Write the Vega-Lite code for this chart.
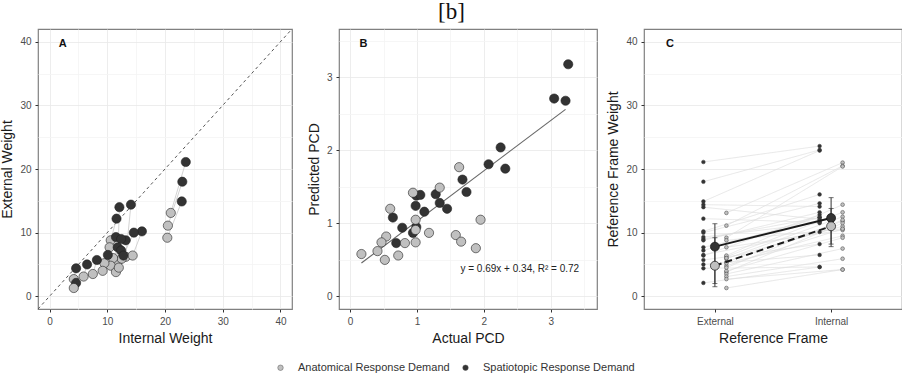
{
  "$schema": "https://vega.github.io/schema/vega-lite/v6.json",
  "padding": {"left": 0, "top": 1, "right": 0, "bottom": 0},
  "title": {"text": "[b]", "font": "Liberation Serif", "fontSize": 23, "fontWeight": "normal", "anchor": "middle", "color": "#111", "offset": 4},
  "datasets": {
    "weights": [
      {"p": 1, "cond": "Spatiotopic Response Demand", "Internal": 23.6, "External": 21.1},
      {"p": 1, "cond": "Anatomical Response Demand", "Internal": 21.0, "External": 13.1},
      {"p": 2, "cond": "Spatiotopic Response Demand", "Internal": 23.0, "External": 18.0},
      {"p": 2, "cond": "Anatomical Response Demand", "Internal": 20.5, "External": 11.1},
      {"p": 3, "cond": "Spatiotopic Response Demand", "Internal": 22.9, "External": 14.9},
      {"p": 3, "cond": "Anatomical Response Demand", "Internal": 20.4, "External": 9.2},
      {"p": 4, "cond": "Spatiotopic Response Demand", "Internal": 14.1, "External": 14.4},
      {"p": 4, "cond": "Anatomical Response Demand", "Internal": 13.2, "External": 6.2},
      {"p": 5, "cond": "Spatiotopic Response Demand", "Internal": 12.1, "External": 14.0},
      {"p": 5, "cond": "Anatomical Response Demand", "Internal": 11.8, "External": 5.4},
      {"p": 6, "cond": "Spatiotopic Response Demand", "Internal": 11.6, "External": 12.2},
      {"p": 6, "cond": "Anatomical Response Demand", "Internal": 10.6, "External": 8.8},
      {"p": 7, "cond": "Spatiotopic Response Demand", "Internal": 16.0, "External": 10.2},
      {"p": 7, "cond": "Anatomical Response Demand", "Internal": 14.4, "External": 6.4},
      {"p": 8, "cond": "Spatiotopic Response Demand", "Internal": 14.6, "External": 10.0},
      {"p": 8, "cond": "Anatomical Response Demand", "Internal": 12.5, "External": 5.9},
      {"p": 9, "cond": "Spatiotopic Response Demand", "Internal": 11.5, "External": 9.3},
      {"p": 9, "cond": "Anatomical Response Demand", "Internal": 10.4, "External": 7.7},
      {"p": 10, "cond": "Spatiotopic Response Demand", "Internal": 13.2, "External": 8.8},
      {"p": 10, "cond": "Anatomical Response Demand", "Internal": 11.0, "External": 6.0},
      {"p": 11, "cond": "Spatiotopic Response Demand", "Internal": 12.4, "External": 9.0},
      {"p": 11, "cond": "Anatomical Response Demand", "Internal": 10.6, "External": 4.8},
      {"p": 12, "cond": "Spatiotopic Response Demand", "Internal": 11.8, "External": 7.7},
      {"p": 12, "cond": "Anatomical Response Demand", "Internal": 11.5, "External": 3.8},
      {"p": 13, "cond": "Spatiotopic Response Demand", "Internal": 12.4, "External": 7.2},
      {"p": 13, "cond": "Anatomical Response Demand", "Internal": 9.5, "External": 5.2},
      {"p": 14, "cond": "Spatiotopic Response Demand", "Internal": 10.1, "External": 6.5},
      {"p": 14, "cond": "Anatomical Response Demand", "Internal": 9.2, "External": 4.0},
      {"p": 15, "cond": "Spatiotopic Response Demand", "Internal": 12.8, "External": 6.4},
      {"p": 15, "cond": "Anatomical Response Demand", "Internal": 12.0, "External": 4.5},
      {"p": 16, "cond": "Spatiotopic Response Demand", "Internal": 8.2, "External": 5.7},
      {"p": 16, "cond": "Anatomical Response Demand", "Internal": 7.5, "External": 3.5},
      {"p": 17, "cond": "Spatiotopic Response Demand", "Internal": 6.5, "External": 5.0},
      {"p": 17, "cond": "Anatomical Response Demand", "Internal": 5.9, "External": 3.1},
      {"p": 18, "cond": "Spatiotopic Response Demand", "Internal": 4.6, "External": 4.4},
      {"p": 18, "cond": "Anatomical Response Demand", "Internal": 4.2, "External": 2.7},
      {"p": 19, "cond": "Spatiotopic Response Demand", "Internal": 4.6, "External": 2.1},
      {"p": 19, "cond": "Anatomical Response Demand", "Internal": 4.2, "External": 1.3}
    ],
    "diag": [
      {"Internal": -2, "External": -2},
      {"Internal": 42, "External": 42}
    ],
    "pcd": [
      {"cond": "Spatiotopic Response Demand", "Actual": 3.26, "Predicted": 3.18},
      {"cond": "Spatiotopic Response Demand", "Actual": 3.05, "Predicted": 2.71},
      {"cond": "Spatiotopic Response Demand", "Actual": 3.22, "Predicted": 2.68},
      {"cond": "Spatiotopic Response Demand", "Actual": 2.25, "Predicted": 2.04},
      {"cond": "Spatiotopic Response Demand", "Actual": 2.07, "Predicted": 1.81},
      {"cond": "Spatiotopic Response Demand", "Actual": 2.32, "Predicted": 1.75},
      {"cond": "Spatiotopic Response Demand", "Actual": 1.68, "Predicted": 1.60},
      {"cond": "Spatiotopic Response Demand", "Actual": 1.74, "Predicted": 1.43},
      {"cond": "Spatiotopic Response Demand", "Actual": 1.28, "Predicted": 1.40},
      {"cond": "Spatiotopic Response Demand", "Actual": 1.34, "Predicted": 1.28},
      {"cond": "Spatiotopic Response Demand", "Actual": 1.45, "Predicted": 1.20},
      {"cond": "Spatiotopic Response Demand", "Actual": 1.11, "Predicted": 1.16},
      {"cond": "Spatiotopic Response Demand", "Actual": 0.98, "Predicted": 1.24},
      {"cond": "Spatiotopic Response Demand", "Actual": 0.99, "Predicted": 1.38},
      {"cond": "Spatiotopic Response Demand", "Actual": 1.05, "Predicted": 1.39},
      {"cond": "Spatiotopic Response Demand", "Actual": 0.64, "Predicted": 1.08},
      {"cond": "Spatiotopic Response Demand", "Actual": 0.78, "Predicted": 0.94},
      {"cond": "Spatiotopic Response Demand", "Actual": 0.99, "Predicted": 0.95},
      {"cond": "Spatiotopic Response Demand", "Actual": 0.94, "Predicted": 0.87},
      {"cond": "Spatiotopic Response Demand", "Actual": 0.69, "Predicted": 0.73},
      {"cond": "Anatomical Response Demand", "Actual": 1.63, "Predicted": 1.77},
      {"cond": "Anatomical Response Demand", "Actual": 1.34, "Predicted": 1.49},
      {"cond": "Anatomical Response Demand", "Actual": 0.94, "Predicted": 1.42},
      {"cond": "Anatomical Response Demand", "Actual": 0.60, "Predicted": 1.20},
      {"cond": "Anatomical Response Demand", "Actual": 0.98, "Predicted": 1.05},
      {"cond": "Anatomical Response Demand", "Actual": 1.95, "Predicted": 1.05},
      {"cond": "Anatomical Response Demand", "Actual": 0.98, "Predicted": 0.91},
      {"cond": "Anatomical Response Demand", "Actual": 1.18, "Predicted": 0.87},
      {"cond": "Anatomical Response Demand", "Actual": 1.58, "Predicted": 0.84},
      {"cond": "Anatomical Response Demand", "Actual": 1.66, "Predicted": 0.75},
      {"cond": "Anatomical Response Demand", "Actual": 1.88, "Predicted": 0.66},
      {"cond": "Anatomical Response Demand", "Actual": 0.54, "Predicted": 0.82},
      {"cond": "Anatomical Response Demand", "Actual": 0.47, "Predicted": 0.74},
      {"cond": "Anatomical Response Demand", "Actual": 0.82, "Predicted": 0.73},
      {"cond": "Anatomical Response Demand", "Actual": 0.98, "Predicted": 0.74},
      {"cond": "Anatomical Response Demand", "Actual": 0.17, "Predicted": 0.58},
      {"cond": "Anatomical Response Demand", "Actual": 0.41, "Predicted": 0.62},
      {"cond": "Anatomical Response Demand", "Actual": 0.72, "Predicted": 0.56},
      {"cond": "Anatomical Response Demand", "Actual": 0.52, "Predicted": 0.50}
    ],
    "fit": [
      {"Actual": 0.17, "Predicted": 0.457},
      {"Actual": 3.22, "Predicted": 2.562}
    ],
    "means": [
      {"cond": "Spatiotopic Response Demand", "frame": "External", "w": 7.8, "lo": 1.5, "hi": 11.4},
      {"cond": "Anatomical Response Demand", "frame": "External", "w": 4.8, "lo": 2.0, "hi": 9.2},
      {"cond": "Spatiotopic Response Demand", "frame": "Internal", "w": 12.3, "lo": 8.2, "hi": 15.5},
      {"cond": "Anatomical Response Demand", "frame": "Internal", "w": 11.0, "lo": 7.8, "hi": 13.8}
    ]
  },
  "spacing": 47,
  "bounds": "flush",
  "hconcat": [
    {
      "width": 254,
      "height": 280,
      "encoding": {
        "x": {"field": "Internal", "type": "quantitative", "title": "Internal Weight",
          "scale": {"domain": [-2, 42], "nice": false, "zero": false},
          "axis": {"values": [0, 5, 10, 15, 20, 25, 30, 35, 40], "labelExpr": "datum.value % 10 === 0 ? '' + datum.value : ''",
            "tickOpacity": {"condition": {"test": "datum.value % 10 === 0", "value": 1}, "value": 0},
            "gridColor": {"condition": {"test": "datum.value % 10 === 0", "value": "#e8e8e8"}, "value": "#f4f4f4"}}},
        "y": {"field": "External", "type": "quantitative", "title": "External Weight",
          "scale": {"domain": [-2, 42], "nice": false, "zero": false},
          "axis": {"values": [0, 5, 10, 15, 20, 25, 30, 35, 40], "labelExpr": "datum.value % 10 === 0 ? '' + datum.value : ''",
            "tickOpacity": {"condition": {"test": "datum.value % 10 === 0", "value": 1}, "value": 0},
            "gridColor": {"condition": {"test": "datum.value % 10 === 0", "value": "#e8e8e8"}, "value": "#f4f4f4"}}}
      },
      "layer": [
        {"data": {"name": "diag"}, "mark": {"type": "line", "color": "#555", "strokeWidth": 1, "strokeDash": [3, 3], "clip": true}, "encoding": {}},
        {"data": {"name": "weights"}, "mark": {"type": "line", "color": "#c8c8c8", "strokeWidth": 0.8},
          "encoding": {"detail": {"field": "p", "type": "nominal"}, "order": {"field": "cond"}}},
        {"data": {"name": "weights"}, "mark": {"type": "point", "filled": true, "size": 85, "stroke": "#222", "strokeWidth": 0.6, "opacity": 1},
          "encoding": {"color": {"field": "cond", "type": "nominal",
            "scale": {"domain": ["Anatomical Response Demand", "Spatiotopic Response Demand"], "range": ["#c0c0c0", "#333333"]},
            "legend": {"orient": "none", "legendX": 237, "legendY": 333, "direction": "horizontal", "title": null,
              "symbolSize": 30, "symbolStrokeColor": "#555", "symbolStrokeWidth": 0.5, "labelFontSize": 11, "labelColor": "#333", "columnPadding": 10, "labelOffset": 12}}}},
        {"data": {"values": [{"Internal": 2.3, "External": 39.6, "lab": "A"}]}, "mark": {"type": "text", "fontWeight": "bold", "fontSize": 11, "color": "#111"},
          "encoding": {"text": {"field": "lab"}}}
      ]
    },
    {
      "width": 258,
      "height": 280,
      "encoding": {
        "x": {"field": "Actual", "type": "quantitative", "title": "Actual PCD",
          "scale": {"domain": [-0.165, 3.69], "nice": false, "zero": false},
          "axis": {"values": [0, 0.5, 1, 1.5, 2, 2.5, 3, 3.5], "labelExpr": "datum.value % 1 === 0 ? '' + datum.value : ''",
            "tickOpacity": {"condition": {"test": "datum.value % 1 === 0", "value": 1}, "value": 0},
            "gridColor": {"condition": {"test": "datum.value % 1 === 0", "value": "#e8e8e8"}, "value": "#f4f4f4"}}},
        "y": {"field": "Predicted", "type": "quantitative", "title": "Predicted PCD",
          "scale": {"domain": [-0.173, 3.663], "nice": false, "zero": false},
          "axis": {"values": [0, 0.5, 1, 1.5, 2, 2.5, 3, 3.5], "labelExpr": "datum.value % 1 === 0 ? '' + datum.value : ''",
            "tickOpacity": {"condition": {"test": "datum.value % 1 === 0", "value": 1}, "value": 0},
            "gridColor": {"condition": {"test": "datum.value % 1 === 0", "value": "#e8e8e8"}, "value": "#f4f4f4"}}}
      },
      "layer": [
        {"data": {"name": "fit"}, "mark": {"type": "line", "color": "#666", "strokeWidth": 1.1}, "encoding": {}},
        {"data": {"name": "pcd"}, "mark": {"type": "point", "filled": true, "size": 85, "stroke": "#222", "strokeWidth": 0.6, "opacity": 1},
          "encoding": {"color": {"field": "cond", "type": "nominal",
            "scale": {"domain": ["Anatomical Response Demand", "Spatiotopic Response Demand"], "range": ["#c0c0c0", "#333333"]}}}},
        {"data": {"values": [{"Actual": 1.65, "Predicted": 0.38, "lab": "y = 0.69x + 0.34, R\u00b2 = 0.72"}]}, "mark": {"type": "text", "align": "left", "fontSize": 10, "color": "#222"},
          "encoding": {"text": {"field": "lab"}}},
        {"data": {"values": [{"Actual": 0.2, "Predicted": 3.46, "lab": "B"}]}, "mark": {"type": "text", "fontWeight": "bold", "fontSize": 11, "color": "#111"},
          "encoding": {"text": {"field": "lab"}}}
      ]
    },
    {
      "width": 258,
      "height": 280,
      "encoding": {
        "x": {"field": "frame", "type": "nominal", "title": "Reference Frame",
          "scale": {"type": "point", "domain": ["External", "Internal"], "padding": 0.61, "align": 0.5},
          "axis": {"labelAngle": 0, "gridColor": "#e8e8e8"}},
        "y": {"field": "w", "type": "quantitative", "title": "Reference Frame Weight",
          "scale": {"domain": [-2, 42], "nice": false, "zero": false},
          "axis": {"values": [0, 5, 10, 15, 20, 25, 30, 35, 40], "labelExpr": "datum.value % 10 === 0 ? '' + datum.value : ''",
            "tickOpacity": {"condition": {"test": "datum.value % 10 === 0", "value": 1}, "value": 0},
            "gridColor": {"condition": {"test": "datum.value % 10 === 0", "value": "#e8e8e8"}, "value": "#f4f4f4"}}}
      },
      "layer": [
        {"data": {"name": "weights"}, "transform": [{"fold": ["External", "Internal"], "as": ["frame", "w"]}],
          "mark": {"type": "line", "color": "#dcdcdc", "strokeWidth": 0.7},
          "encoding": {"detail": {"field": "p", "type": "nominal"},
            "xOffset": {"field": "cond", "type": "nominal", "scale": {"type": "point", "padding": 0, "domain": ["Spatiotopic Response Demand", "Anatomical Response Demand"], "range": [-11.5, 11.5]}},
            "strokeDash": {"field": "cond", "type": "nominal", "legend": null, "scale": {"domain": ["Spatiotopic Response Demand", "Anatomical Response Demand"], "range": [[1, 0], [1, 0]]}}}},
        {"data": {"name": "weights"}, "transform": [{"fold": ["External", "Internal"], "as": ["frame", "w"]}],
          "mark": {"type": "point", "filled": true, "size": 14, "stroke": "#444", "strokeWidth": 0.5, "opacity": 1},
          "encoding": {
            "xOffset": {"field": "cond", "type": "nominal", "scale": {"type": "point", "padding": 0, "domain": ["Spatiotopic Response Demand", "Anatomical Response Demand"], "range": [-11.5, 11.5]}},
            "color": {"field": "cond", "type": "nominal",
              "scale": {"domain": ["Anatomical Response Demand", "Spatiotopic Response Demand"], "range": ["#c0c0c0", "#333333"]}}}},
        {"data": {"name": "means"}, "mark": {"type": "errorbar", "color": "#333", "thickness": 1, "ticks": {"size": 5, "color": "#333"}},
          "encoding": {"y": {"field": "lo", "type": "quantitative", "title": "Reference Frame Weight", "scale": {"domain": [-2, 42], "nice": false, "zero": false}},
            "y2": {"field": "hi"}}},
        {"data": {"name": "means"}, "transform": [{"filter": "datum.cond === 'Spatiotopic Response Demand'"}],
          "mark": {"type": "line", "color": "#1a1a1a", "strokeWidth": 2}, "encoding": {}},
        {"data": {"name": "means"}, "transform": [{"filter": "datum.cond === 'Anatomical Response Demand'"}],
          "mark": {"type": "line", "color": "#1a1a1a", "strokeWidth": 2, "strokeDash": [7, 4]}, "encoding": {}},
        {"data": {"name": "means"}, "mark": {"type": "point", "filled": true, "size": 80, "stroke": "#111", "strokeWidth": 0.7, "opacity": 1},
          "encoding": {"color": {"field": "cond", "type": "nominal",
            "scale": {"domain": ["Anatomical Response Demand", "Spatiotopic Response Demand"], "range": ["#c0c0c0", "#333333"]}}}},
        {"data": {"values": [{"frame": "External", "w": 39.6, "lab": "C"}]}, "mark": {"type": "text", "fontWeight": "bold", "fontSize": 11, "color": "#111", "dx": -45},
          "encoding": {"text": {"field": "lab"}}}
      ]
    }
  ],
  "config": {
    "font": "Liberation Sans",
    "view": {"stroke": "#808080", "strokeWidth": 1.2},
    "axis": {"domain": false, "tickColor": "#333", "tickSize": 3, "labelColor": "#4d4d4d", "labelFontSize": 10,
      "titleFontSize": 14, "titleFontWeight": "normal", "titleColor": "#1a1a1a", "labelPadding": 4, "gridWidth": 0.8},
    "axisX": {"titlePadding": 5},
    "axisY": {"titlePadding": 5}
  }
}
